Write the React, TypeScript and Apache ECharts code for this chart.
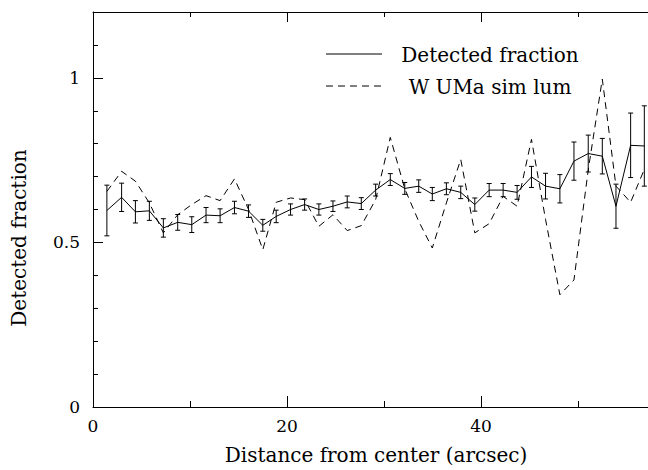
import React, { useEffect, useRef } from "react";
import * as echarts from "echarts";

// Distance from center (arcsec) of each radial bin
const distances = [
  1.43, 2.95, 4.37, 5.81, 7.25, 8.73, 10.18, 11.65, 13.1, 14.58,
  16.03, 17.5, 18.88, 20.36, 21.81, 23.28, 24.73, 26.2, 27.65, 29.13,
  30.64, 32.13, 33.57, 34.97, 36.42, 37.9, 39.35, 40.83, 42.27, 43.71,
  45.19, 46.64, 48.12, 49.57, 51.04, 52.49, 53.9, 55.41, 56.82,
];

// Detected fraction (solid line with error bars)
const detectedFraction = [
  0.597, 0.637, 0.593, 0.596, 0.544, 0.561, 0.554, 0.583, 0.581, 0.606,
  0.595, 0.552, 0.579, 0.6, 0.615, 0.6, 0.61, 0.623, 0.618, 0.659,
  0.691, 0.664, 0.671, 0.647, 0.663, 0.652, 0.615, 0.659, 0.659, 0.652,
  0.699, 0.671, 0.663, 0.747, 0.77, 0.762, 0.61, 0.795, 0.793,
];

// Half-length of each error bar
const detectedError = [
  0.077, 0.043, 0.034, 0.029, 0.028, 0.024, 0.024, 0.023, 0.021, 0.019,
  0.019, 0.018, 0.019, 0.017, 0.017, 0.017, 0.016, 0.018, 0.018, 0.018,
  0.018, 0.018, 0.019, 0.02, 0.018, 0.019, 0.02, 0.02, 0.02, 0.021,
  0.032, 0.039, 0.043, 0.058, 0.056, 0.054, 0.067, 0.098, 0.122,
];

// W UMa simulated luminosity (dashed line)
const wumaSimLum = [
  0.655, 0.716, 0.686, 0.62, 0.529, 0.584, 0.615, 0.642, 0.627, 0.693,
  0.6, 0.478, 0.622, 0.635, 0.63, 0.549, 0.584, 0.536, 0.551, 0.63,
  0.819, 0.663, 0.564, 0.483, 0.62, 0.752, 0.529, 0.557, 0.64, 0.61,
  0.813, 0.57, 0.341, 0.386, 0.72, 0.996, 0.671, 0.622, 0.722,
];

const seriesNames = ["Detected fraction", "W UMa sim lum"];
const xTitle = "Distance from center (arcsec)";
const yTitle = "Detected fraction";

const X_MIN = 0;
const X_MAX = 57.2;
const Y_MIN = 0;
const Y_MAX = 1.2;

const FONT = "DejaVu Serif";
const INK = "#000";

export default function App() {
  const ref = useRef<HTMLDivElement>(null);

  useEffect(() => {
    if (!ref.current) return;
    const chart = echarts.init(ref.current, null, { renderer: "svg" });

    const gridBox = { left: 93, top: 12, right: 0, bottom: 63, containLabel: false };

    const solidData = distances.map((d, i) => [d, detectedFraction[i]]);
    const dashedData = distances.map((d, i) => [d, wumaSimLum[i]]);
    const errData = distances.map((d, i) => [
      d,
      detectedFraction[i] - detectedError[i],
      detectedFraction[i] + detectedError[i],
    ]);

    const hiddenLabel = { show: false };

    chart.setOption({
      animation: false,
      backgroundColor: "#fff",
      grid: [gridBox, { ...gridBox }],
      xAxis: [
        {
          gridIndex: 0,
          type: "value",
          position: "bottom",
          min: X_MIN,
          max: X_MAX,
          interval: 20,
          axisLine: { show: true, lineStyle: { color: INK, width: 1 } },
          axisTick: { show: true, inside: true, length: 11, lineStyle: { color: INK } },
          axisLabel: {
            show: true,
            showMaxLabel: false,
            margin: 10,
            color: INK,
            fontFamily: FONT,
            fontSize: 17,
          },
          splitLine: { show: false },
        },
        {
          gridIndex: 0,
          type: "value",
          position: "top",
          min: X_MIN,
          max: X_MAX,
          interval: 20,
          axisLine: { show: true, lineStyle: { color: INK, width: 1 } },
          axisTick: { show: true, inside: true, length: 10, lineStyle: { color: INK } },
          axisLabel: hiddenLabel,
          splitLine: { show: false },
        },
        {
          gridIndex: 1,
          type: "value",
          position: "bottom",
          min: X_MIN,
          max: X_MAX,
          interval: 10,
          axisLine: { show: false },
          axisTick: { show: true, inside: true, length: 6, lineStyle: { color: INK } },
          axisLabel: hiddenLabel,
          splitLine: { show: false },
        },
        {
          gridIndex: 1,
          type: "value",
          position: "top",
          min: X_MIN,
          max: X_MAX,
          interval: 10,
          axisLine: { show: false },
          axisTick: { show: true, inside: true, length: 5, lineStyle: { color: INK } },
          axisLabel: hiddenLabel,
          splitLine: { show: false },
        },
      ],
      yAxis: [
        {
          gridIndex: 0,
          type: "value",
          position: "left",
          min: Y_MIN,
          max: Y_MAX,
          interval: 0.5,
          axisLine: { show: true, lineStyle: { color: INK, width: 1 } },
          axisTick: { show: true, inside: true, length: 10, lineStyle: { color: INK } },
          axisLabel: {
            show: true,
            showMaxLabel: false,
            margin: 13,
            color: INK,
            fontFamily: FONT,
            fontSize: 17,
          },
          splitLine: { show: false },
        },
        {
          gridIndex: 1,
          type: "value",
          position: "left",
          min: Y_MIN,
          max: Y_MAX,
          interval: 0.1,
          axisLine: { show: false },
          axisTick: { show: true, inside: true, length: 5, lineStyle: { color: INK } },
          axisLabel: hiddenLabel,
          splitLine: { show: false },
        },
      ],
      series: [
        {
          name: seriesNames[0],
          type: "line",
          xAxisIndex: 0,
          yAxisIndex: 0,
          data: solidData,
          symbol: "none",
          lineStyle: { color: INK, width: 1, type: "solid" },
          z: 3,
        },
        {
          name: seriesNames[1],
          type: "line",
          xAxisIndex: 0,
          yAxisIndex: 0,
          data: dashedData,
          symbol: "none",
          lineStyle: { color: INK, width: 1, type: [7, 5] },
          z: 2,
        },
        {
          name: "errors",
          type: "custom",
          xAxisIndex: 0,
          yAxisIndex: 0,
          data: errData,
          encode: { x: 0, y: [1, 2] },
          z: 4,
          renderItem: (params: any, api: any) => {
            const x = api.value(0);
            const lo = api.coord([x, api.value(1)]);
            const hi = api.coord([x, api.value(2)]);
            const w = 2.5;
            const style = { stroke: INK, lineWidth: 1, fill: "none" };
            return {
              type: "group",
              children: [
                { type: "line", shape: { x1: lo[0], y1: lo[1], x2: hi[0], y2: hi[1] }, style },
                { type: "line", shape: { x1: lo[0] - w, y1: lo[1], x2: lo[0] + w, y2: lo[1] }, style },
                { type: "line", shape: { x1: hi[0] - w, y1: hi[1], x2: hi[0] + w, y2: hi[1] }, style },
              ],
            };
          },
        },
      ],
      graphic: [
        {
          type: "line",
          shape: { x1: 326, y1: 54, x2: 382, y2: 54 },
          style: { stroke: INK, lineWidth: 1 },
        },
        {
          type: "line",
          shape: { x1: 326, y1: 86, x2: 382, y2: 86 },
          style: { stroke: INK, lineWidth: 1, lineDash: [7, 5] },
        },
        {
          type: "text",
          x: 490,
          y: 55,
          style: {
            text: seriesNames[0],
            fontFamily: FONT,
            fontSize: 20,
            fill: INK,
            align: "center",
            verticalAlign: "middle",
          },
        },
        {
          type: "text",
          x: 490,
          y: 87,
          style: {
            text: seriesNames[1],
            fontFamily: FONT,
            fontSize: 20,
            fill: INK,
            align: "center",
            verticalAlign: "middle",
          },
        },
        {
          type: "text",
          x: 376,
          y: 455,
          style: {
            text: xTitle,
            fontFamily: FONT,
            fontSize: 20,
            fill: INK,
            align: "center",
            verticalAlign: "middle",
          },
        },
        {
          type: "text",
          x: 19,
          y: 238,
          rotation: Math.PI / 2,
          style: {
            text: yTitle,
            fontFamily: FONT,
            fontSize: 20,
            fill: INK,
            align: "center",
            verticalAlign: "middle",
          },
        },
      ],
    });

    return () => chart.dispose();
  }, []);

  return (
    <div
      ref={ref}
      style={{ position: "fixed", left: 0, top: 0, width: 648, height: 470, background: "#fff" }}
    />
  );
}
